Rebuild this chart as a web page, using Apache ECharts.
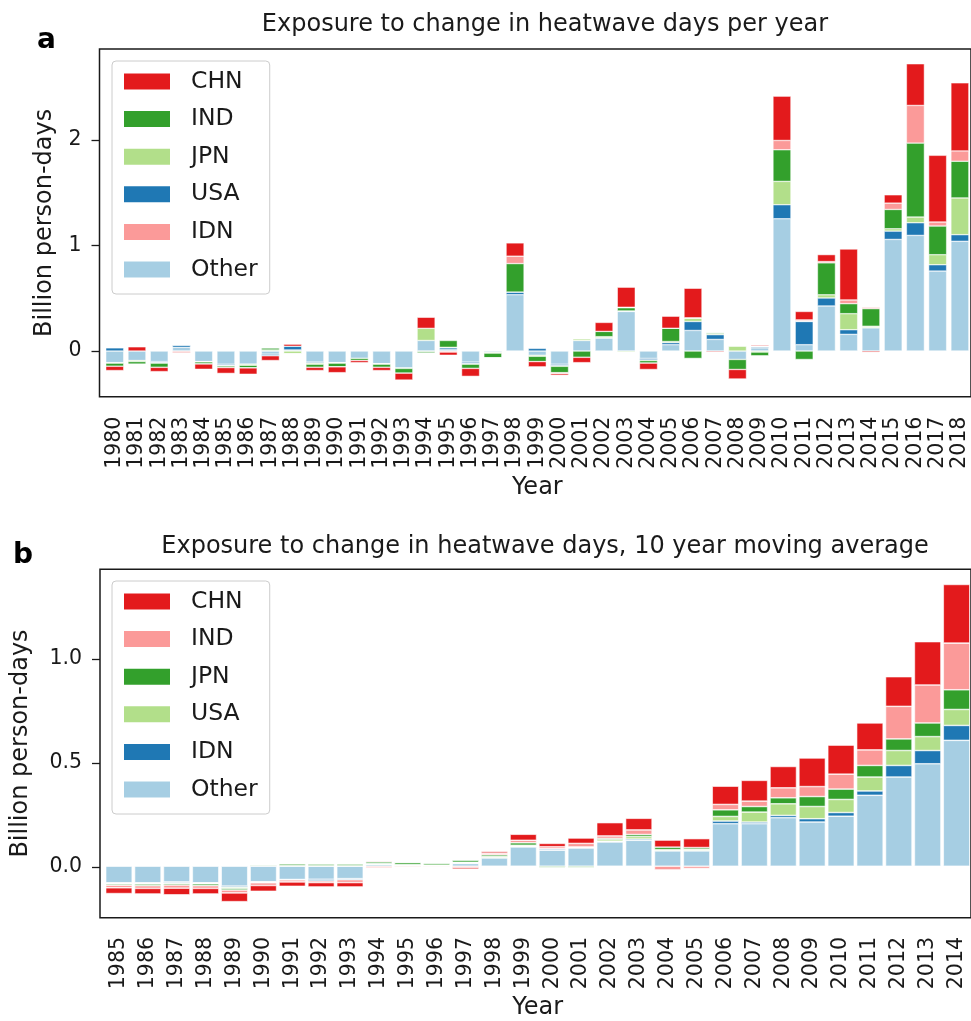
<!DOCTYPE html>
<html>
<head>
<meta charset="utf-8">
<script src="https://cdn.jsdelivr.net/npm/echarts@6/dist/echarts.min.js"></script>
<style>
  html, body { margin: 0; padding: 0; background: #fff; }
  #chart { width: 971px; height: 1021px; }
</style>
</head>
<body>
<div id="chart"></div>
<script>
// ---- panel a: exposure per year (billion person-days) ----
const yearsA = ['1980','1981','1982','1983','1984','1985','1986','1987','1988','1989',
  '1990','1991','1992','1993','1994','1995','1996','1997','1998','1999',
  '2000','2001','2002','2003','2004','2005','2006','2007','2008','2009',
  '2010','2011','2012','2013','2014','2015','2016','2017','2018']

const otherA = [-0.11,-0.09,-0.10,0.035,-0.10,-0.125,-0.125,-0.03,0.01,-0.105,
  -0.11,-0.07,-0.12,-0.16,0.10,0.012,-0.105,-0.012,0.534,-0.04,
  -0.125,0.10,0.123,0.375,-0.07,0.06,0.195,0.11,-0.08,0.03,
  1.254,0.06,0.427,0.158,0.22,1.058,1.096,0.758,1.04]
const usaA = [0.03,0,-0.01,0.02,0,-0.012,0,-0.015,0.035,-0.01,
  0,0,0,-0.005,-0.005,0.018,-0.015,0.005,0.025,0.025,
  -0.015,0,0.003,0.005,-0.015,0.02,0.085,0.045,0,0.01,
  0.133,0.22,0.076,0.044,0.003,0.079,0.12,0.06,0.063]
const jpnA = [-0.005,-0.01,-0.005,0.005,-0.003,-0.005,-0.01,0.01,-0.025,-0.01,
  -0.005,0,-0.005,0,0.115,0.005,-0.005,-0.008,0,-0.01,
  -0.005,0.015,0.01,-0.01,-0.005,0.01,0.03,0.01,0.045,-0.01,
  0.221,0.005,0.03,0.152,0.012,0.022,0.054,0.095,0.348]
const indA = [-0.03,-0.025,-0.04,-0.005,-0.02,-0.015,-0.025,0.02,-0.005,-0.03,
  -0.035,-0.02,-0.03,-0.045,-0.015,0.065,-0.04,-0.045,0.27,-0.05,
  -0.06,-0.06,0.05,0.03,-0.025,0.126,-0.07,0.01,-0.095,-0.035,
  0.30,-0.08,0.303,0.095,0.167,0.183,0.701,0.272,0.348]
const idnA = [0,0,0,0,0,0,0,0,0,0,
  0,0,0,0,0,-0.01,0,0,0.07,0,
  -0.01,0,0,0.005,0,0,0.005,0,0,0.005,
  0.088,0.01,0.012,0.035,0.012,0.06,0.357,0.038,0.098]
const chnA = [-0.04,0.04,-0.04,-0.01,-0.05,-0.055,-0.06,-0.045,0.02,-0.03,
  -0.055,-0.02,-0.03,-0.065,0.105,-0.03,-0.075,0,0.126,-0.05,
  -0.015,-0.05,0.085,0.19,-0.06,0.114,0.28,-0.01,-0.09,0.01,
  0.42,0.08,0.066,0.483,-0.012,0.079,0.395,0.632,0.645]

// ---- panel b: 10 year moving average ----
const yearsB = ['1985','1986','1987','1988','1989','1990','1991','1992','1993','1994',
  '1995','1996','1997','1998','1999','2000','2001','2002','2003','2004',
  '2005','2006','2007','2008','2009','2010','2011','2012','2013','2014']

const otherB = [-0.08,-0.08,-0.076,-0.08,-0.096,-0.075,-0.064,-0.063,-0.06,0.008,
  0.004,0.003,0.013,0.04,0.093,0.077,0.088,0.117,0.125,0.074,
  0.074,0.205,0.205,0.234,0.213,0.241,0.342,0.43,0.494,0.607]
const idnB = [-0.003,-0.003,-0.005,-0.002,-0.006,-0.002,-0.002,-0.008,-0.005,0.002,
  0.001,0,0.003,0.002,0.003,0.006,0.002,0.003,0.006,0.002,
  0.002,0.013,0.008,0.011,0.016,0.018,0.021,0.056,0.064,0.072]
const usaB = [-0.003,-0.003,-0.003,-0.003,-0.005,-0.003,0.003,0.002,0.002,0.003,
  0.003,0.002,0.003,0.005,0.005,0.002,0.003,0.008,0.012,0.004,
  0.006,0.022,0.048,0.056,0.059,0.063,0.067,0.072,0.067,0.077]
const jpnB = [-0.006,-0.008,-0.007,-0.009,-0.008,0.004,0.008,0.008,0.008,0.008,
  0.01,0.008,0.01,0.008,0.012,-0.006,-0.006,0.006,0.01,0.012,
  0.008,0.032,0.027,0.029,0.048,0.05,0.056,0.056,0.066,0.095]
const indB = [-0.012,-0.013,-0.015,-0.013,-0.014,-0.013,-0.01,-0.008,-0.014,-0.008,
  -0.005,-0.004,-0.006,0.008,0.012,0.009,0.017,0.012,0.022,-0.018,
  -0.011,0.026,0.026,0.048,0.048,0.072,0.075,0.157,0.183,0.225]
const chnB = [-0.028,-0.027,-0.032,-0.027,-0.042,-0.028,-0.021,-0.021,-0.021,0.004,
  0.002,-0.002,-0.008,0.008,0.029,0.016,0.026,0.064,0.056,0.034,
  0.043,0.088,0.10,0.103,0.138,0.14,0.13,0.143,0.209,0.283]

const yTicksA = [0, 1, 2]
const yTicksB = [0, 0.5, 1.0]

// matplotlib "Paired" colours, stacked bottom -> top
const cLightBlue = '#a6cee3'
const cBlue = '#1f78b4'
const cLightGreen = '#b2df8a'
const cGreen = '#33a02c'
const cPink = '#fb9a99'
const cRed = '#e31a1c'

const font = 'DejaVu Sans'
const ink = '#1a1a1a'

const chart = echarts.init(document.getElementById('chart'))

function bars(name, values, color, axisIdx, stack, width, border) {
  return {
    type: 'bar',
    name: name,
    data: values,
    xAxisIndex: axisIdx,
    yAxisIndex: axisIdx,
    stack: stack,
    barWidth: width,
    itemStyle: { color: color, borderColor: '#fff', borderWidth: border },
    emphasis: { disabled: true },
    animation: false
  }
}

function legendFor(items, top) {
  return {
    orient: 'vertical',
    left: 112,
    top: top,
    padding: [8.5, 12, 12.5, 10],
    itemWidth: 48,
    itemHeight: 18,
    itemGap: 13.6,
    selectedMode: false,
    backgroundColor: 'rgba(255,255,255,0.8)',
    borderColor: '#cccccc',
    borderWidth: 1,
    borderRadius: 4,
    icon: 'rect',
    textStyle: { fontFamily: font, fontSize: 23.5, color: ink, padding: [0, 0, 0, 15] },
    data: items.map(it => ({ name: it[0], itemStyle: { color: it[1] } }))
  }
}

// frame grid (matplotlib spines) + bar grid offset so the bands line up
function frameYAxis(gridIdx, min, max, ticks, fmt, gap) {
  return {
    type: 'value', gridIndex: gridIdx, min: min, max: max,
    name: 'Billion person-days', nameLocation: 'middle', nameGap: gap,
    nameTextStyle: { fontFamily: font, fontSize: 24, color: ink },
    axisLine: { show: false },
    splitLine: { show: false },
    axisTick: { show: true, length: 8, customValues: ticks, lineStyle: { color: ink, width: 1.3 } },
    axisLabel: { customValues: ticks, formatter: fmt, margin: 18, fontFamily: font, fontSize: 20.5, color: ink }
  }
}

function yearAxis(gridIdx, years) {
  return {
    type: 'category', gridIndex: gridIdx, data: years,
    name: 'Year', nameLocation: 'middle', nameGap: 79,
    nameTextStyle: { fontFamily: font, fontSize: 24, color: ink },
    axisLine: { show: false },
    axisTick: { alignWithLabel: true, length: 8, lineStyle: { color: ink, width: 1.3 } },
    axisLabel: { rotate: 90, interval: 0, margin: 20, fontFamily: font, fontSize: 20.5, color: ink }
  }
}

const option = {
  animation: false,
  backgroundColor: '#fff',
  title: [
    { text: 'Exposure to change in heatwave days per year', left: 540, top: 8, textAlign: 'center',
      textStyle: { fontFamily: font, fontSize: 24, fontWeight: 'normal', color: ink } },
    { text: 'Exposure to change in heatwave days, 10 year moving average', left: 540, top: 530, textAlign: 'center',
      textStyle: { fontFamily: font, fontSize: 24, fontWeight: 'normal', color: ink } },
    { text: 'a', left: 32, top: 22, textStyle: { fontFamily: font, fontSize: 28, fontWeight: 'bold', color: '#000' } },
    { text: 'b', left: 8, top: 537, textStyle: { fontFamily: font, fontSize: 28, fontWeight: 'bold', color: '#000' } }
  ],
  legend: [
    legendFor([['CHN', cRed], ['IND', cGreen], ['JPN', cLightGreen], ['USA', cBlue], ['IDN', cPink], ['Other', cLightBlue]], 61),
    legendFor([['CHN', cRed], ['IND', cPink], ['JPN', cGreen], ['USA', cLightGreen], ['IDN', cBlue], ['Other', cLightBlue]], 581)
  ],
  grid: [
    { left: 99.5, top: 49, width: 880.5, height: 347.7, show: true, borderColor: ink, borderWidth: 1.5, backgroundColor: 'transparent' },
    { left: 103.6, top: 49, width: 872.4, height: 347.7 },
    { left: 100, top: 569.3, width: 880.5, height: 348.4, show: true, borderColor: ink, borderWidth: 1.5, backgroundColor: 'transparent' },
    { left: 104.5, top: 569.3, width: 871.5, height: 348.4 }
  ],
  xAxis: [
    { type: 'value', gridIndex: 0, min: 0, max: 1, show: false },
    yearAxis(1, yearsA),
    { type: 'value', gridIndex: 2, min: 0, max: 1, show: false },
    yearAxis(3, yearsB)
  ],
  yAxis: [
    frameYAxis(0, -0.433, 2.863, yTicksA, v => String(v), 43),
    { type: 'value', gridIndex: 1, min: -0.433, max: 2.863, show: false },
    frameYAxis(2, -0.245, 1.432, yTicksB, v => v.toFixed(1), 67),
    { type: 'value', gridIndex: 3, min: -0.245, max: 1.432, show: false }
  ],
  series: [
    bars('Other', otherA, cLightBlue, 1, 'a', 18, 0.5),
    bars('USA', usaA, cBlue, 1, 'a', 18, 0.5),
    bars('JPN', jpnA, cLightGreen, 1, 'a', 18, 0.5),
    bars('IND', indA, cGreen, 1, 'a', 18, 0.5),
    bars('IDN', idnA, cPink, 1, 'a', 18, 0.5),
    bars('CHN', chnA, cRed, 1, 'a', 18, 0.5),

    bars('Other', otherB, cLightBlue, 3, 'b', 26.5, 0.6),
    bars('IDN', idnB, cBlue, 3, 'b', 26.5, 0.6),
    bars('USA', usaB, cLightGreen, 3, 'b', 26.5, 0.6),
    bars('JPN', jpnB, cGreen, 3, 'b', 26.5, 0.6),
    bars('IND', indB, cPink, 3, 'b', 26.5, 0.6),
    bars('CHN', chnB, cRed, 3, 'b', 26.5, 0.6)
  ]
}

chart.setOption(option)
</script>
</body>
</html>
